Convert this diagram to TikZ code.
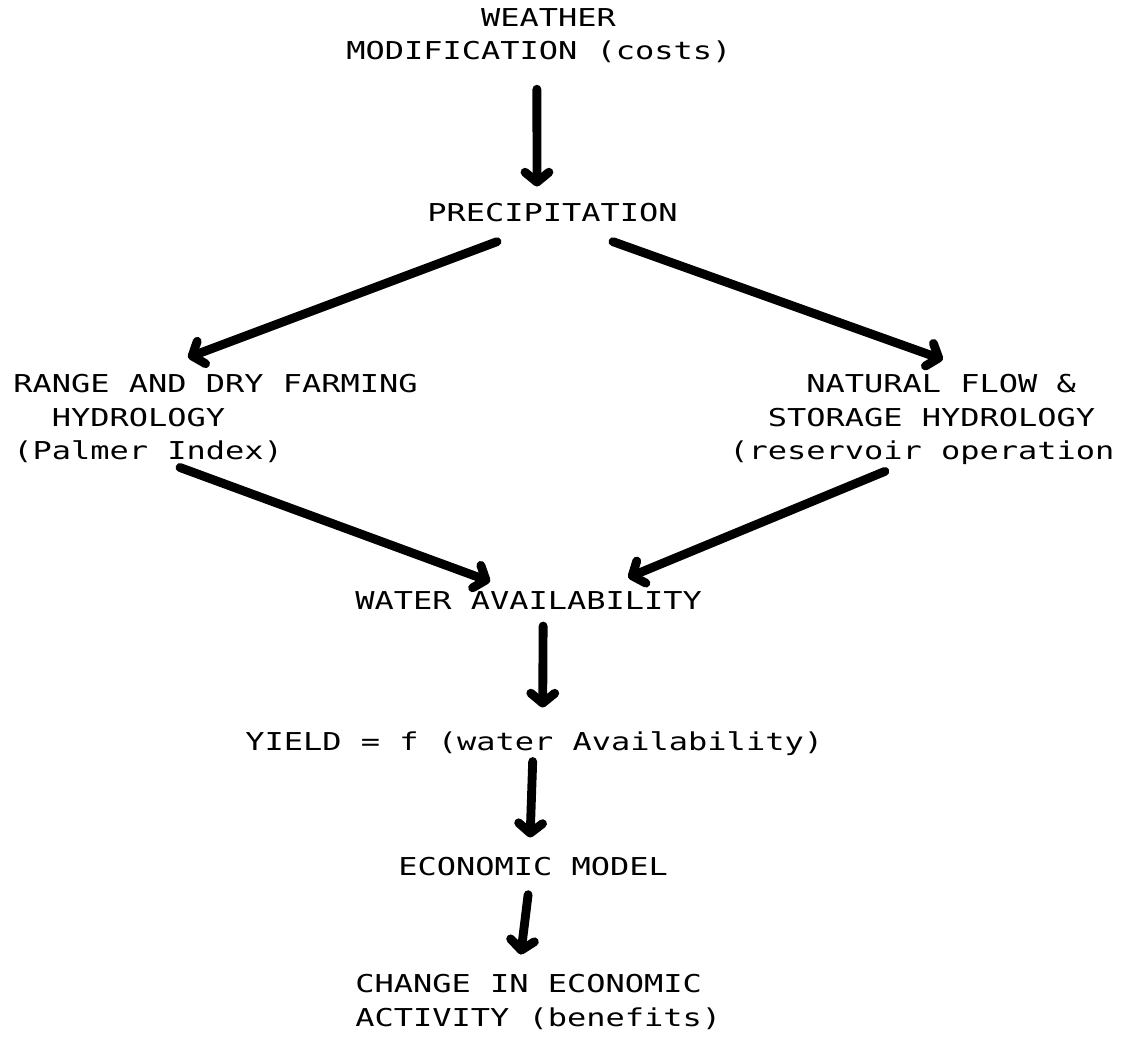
\documentclass[tikz,border=0pt]{standalone}
\usepackage{fontspec}
\usepackage{tikz}
\usetikzlibrary{arrows.meta,calc}
\newfontfamily\dotmono[FakeStretch=1.3]{DejaVu Sans Mono}

\begin{document}
\begin{tikzpicture}[x=0.025cm, y=-0.025cm,
    txt/.style={inner sep=0pt, anchor=north west, align=left, font={\dotmono\fontsize{17.5}{23.8}\selectfont}},
    flow/.style={line width=6.3pt, line cap=round, -{Straight Barb[length=7pt,width=17pt,line join=round,line cap=round]}}]
  \useasboundingbox (0,0) rectangle (1131,1042);
  \node[txt] (weather) at (346,8) {\phantom{xxxxxxx}WEATHER\\MODIFICATION (costs)};
  \node[txt] (precip) at (427,203) {PRECIPITATION};
  \node[txt] (range) at (13,374) {RANGE AND DRY FARMING\\\phantom{xx}HYDROLOGY\\(Palmer Index)};
  \node[txt] (natural) at (729,374) {\phantom{xxxx}NATURAL FLOW \&\\\phantom{xx}STORAGE HYDROLOGY\\(reservoir operation};
  \node[txt] (water) at (355,591) {WATER AVAILABILITY};
  \node[txt] (yield) at (245,731) {YIELD = f (water Availability)};
  \node[txt] (econ) at (398,857) {ECONOMIC MODEL};
  \node[txt] (change) at (355,974) {CHANGE IN ECONOMIC\\ACTIVITY (benefits)};

  \draw[flow] ($(weather.south)+(-2,26)$) -- ($(precip.north)+(-15.5,-16.5)$);
  \draw[flow] ($(precip.south)+(-55.5,19.5)$) -- ($(range.north)+(-27.5,-16.5)$);
  \draw[flow] ($(precip.south)+(60.5,19.5)$) -- ($(natural.north)+(21,-14.5)$);
  \draw[flow] ($(range.south)+(-35.5,4.5)$) -- ($(water.north)+(-38.5,-9.5)$);
  \draw[flow] ($(natural.south)+(-37,6.5)$) -- ($(water.north)+(99.5,-13.5)$);
  \draw[flow] ($(water.south)+(14.5,16.5)$) -- ($(yield.north)+(8.5,-23.5)$);
  \draw[flow] ($(yield.south)+(-1.5,6)$) -- ($(econ.north)+(-3,-19.5)$);
  \draw[flow] ($(econ.south)+(-5,18.5)$) -- ($(change.north)+(-17.5,-19.5)$);
\end{tikzpicture}
\end{document}
